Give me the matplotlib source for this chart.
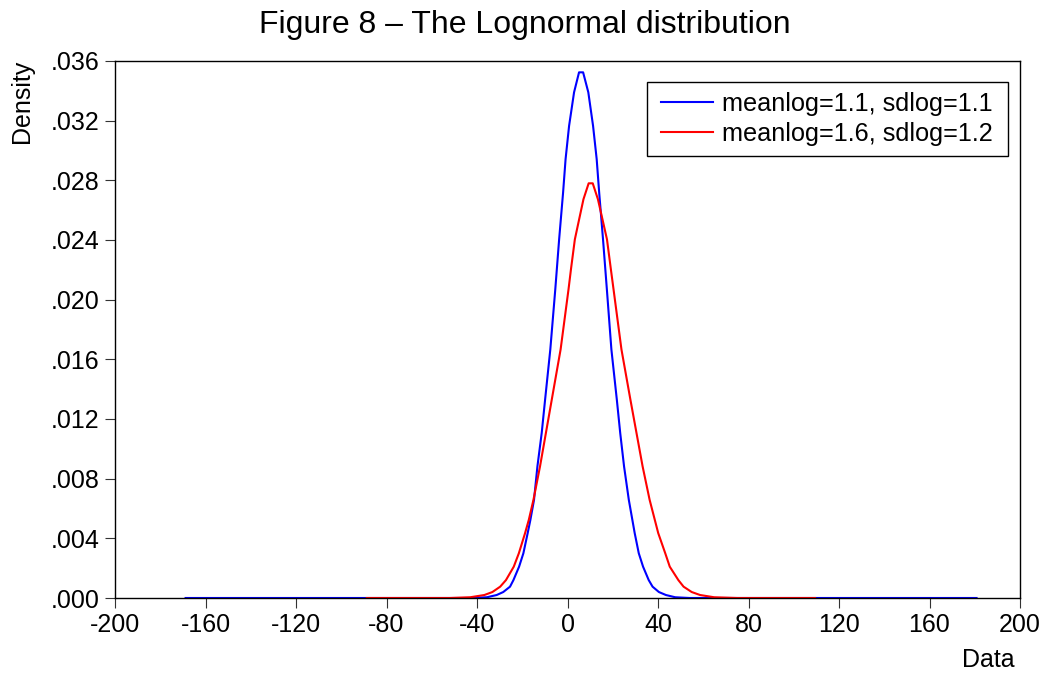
import numpy as np
import matplotlib.pyplot as plt
from matplotlib.patches import Rectangle

plt.rcParams['font.family'] = ['Liberation Sans', 'DejaVu Sans']

# kernel density estimates for each series (x, density)
blue_x = [-168.8, -42.0, -35.6, -31.3, -28.4, -25.4, -23.9, -21.4, -19.5, -17.6,
          -16.4, -14.8, -13.3, -11.4, -9.9, -7.6, -5.4, -3.7, -1.95, -0.85,
          0.7, 2.9, 5.1, 6.9, 9.2, 11.3, 12.9, 14.0, 15.7, 17.4,
          19.4, 21.8, 23.3, 25.0, 27.1, 29.7, 31.5, 33.4, 35.9, 37.6,
          40.4, 43.5, 47.6, 54.0, 180.8]
blue_y = [0.0, 0.0, 0.00005, 0.0002, 0.0004, 0.00076, 0.0012, 0.0021, 0.003, 0.00435,
          0.00524, 0.00658, 0.00882, 0.01106, 0.0133, 0.01666, 0.02069, 0.02404, 0.02718, 0.02942,
          0.03165, 0.0339, 0.03524, 0.03524, 0.0339, 0.03165, 0.02942, 0.02718, 0.02404, 0.02069,
          0.01666, 0.0133, 0.01106, 0.00882, 0.00658, 0.00435, 0.003, 0.0021, 0.0012, 0.00076,
          0.0004, 0.0002, 0.00005, 0.0, 0.0]

red_x = [-88.7, -52.0, -43.0, -36.75, -33.2, -29.75, -27.2, -23.75, -21.5, -18.75,
         -17.1, -15.05, -12.15, -9.55, -6.95, -3.05, 0.45, 1.55, 3.25, 5.15,
         7.05, 9.35, 11.15, 13.45, 15.45, 17.45, 19.15, 20.35, 23.85, 27.8,
         30.5, 33.2, 36.3, 40.1, 43.2, 45.2, 49.0, 51.3, 54.9, 58.6,
         64.8, 75.0, 109.4]
red_y = [0.0, 0.0, 0.00005, 0.0002, 0.0004, 0.00076, 0.0012, 0.0021, 0.003, 0.00435,
         0.00524, 0.00658, 0.00882, 0.01106, 0.0133, 0.01666, 0.02069, 0.02206, 0.02404, 0.02539,
         0.02673, 0.0278, 0.0278, 0.02673, 0.02539, 0.02404, 0.02206, 0.02069, 0.01666, 0.0133,
         0.01106, 0.00882, 0.00658, 0.00435, 0.003, 0.0021, 0.0012, 0.00076, 0.0004, 0.0002,
         0.00005, 0.0, 0.0]

labels = ['meanlog=1.1, sdlog=1.1', 'meanlog=1.6, sdlog=1.2']
x_ticks = np.arange(-200, 201, 40)
y_ticks = np.arange(0, 0.0361, 0.004)

W, H = 1047, 673
fig = plt.figure(figsize=(W / 100, H / 100), dpi=100)
ax = fig.add_axes([115 / W, 75 / H, 905 / W, 537 / H])


def px2ax(px, py):
    # pixel position in the figure -> axes fraction
    return (px - 115) / 905, (598 - py) / 537


ax.plot(blue_x, blue_y, color='#0000ff', lw=1.5, label=labels[0])
ax.plot(red_x, red_y, color='#ff0000', lw=1.5, label=labels[1])

ax.set_xlim(-200, 200)
ax.set_ylim(0, 0.036)
ax.set_xticks(x_ticks)
ax.set_xticklabels([str(v) for v in x_ticks])
ax.set_yticks(y_ticks)
ax.set_yticklabels(['.%03d' % round(v * 1000) for v in y_ticks])
ax.tick_params(direction='out', length=7, width=0.8, color='#333333',
               labelsize=18, pad=4)
for s in ax.spines.values():
    s.set_linewidth(1.0)
    s.set_color('black')

# legend entries without frame, box drawn separately
ax.legend(loc='center left', bbox_to_anchor=px2ax(661, 119), fontsize=18.2,
          frameon=False, handlelength=2.05, handletextpad=0.38,
          labelspacing=0.26, borderpad=0, borderaxespad=0)
x0, y1 = px2ax(647, 82)
x1, y0 = px2ax(1008, 156)
ax.add_patch(Rectangle((x0, y0), x1 - x0, y1 - y0, transform=ax.transAxes,
                       fill=False, edgecolor='black', lw=1.0, zorder=5))

fig.text(525 / W, 1 - 25 / H, 'Figure 8 \u2013 The Lognormal distribution',
         fontsize=23, ha='center', va='center')
fig.text(22 / W, 1 - 60 / H, 'Density', fontsize=18, rotation=90,
         ha='center', va='top')
fig.text(1015 / W, 1 - 660 / H, 'Data', fontsize=18, ha='right', va='center')

fig.savefig('out.png', dpi=100)
